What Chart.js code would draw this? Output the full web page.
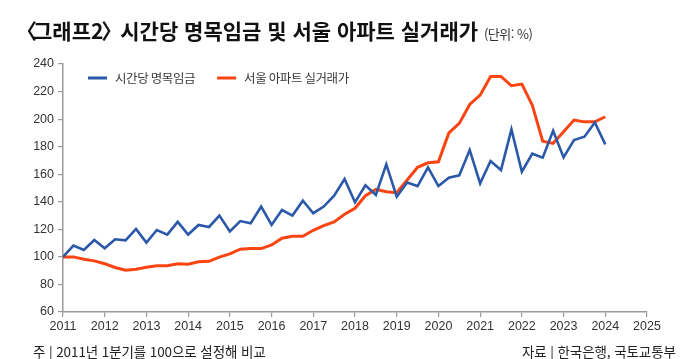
<!DOCTYPE html>
<html lang="ko">
<head>
<meta charset="utf-8">
<script src="https://cdn.jsdelivr.net/npm/chart.js@4.4.1/dist/chart.umd.min.js"></script>
<style>
  html, body { margin: 0; padding: 0; background: #fff; }
  #wrap { position: relative; width: 700px; height: 359px; overflow: hidden; }
  #grafico { position: absolute; left: 0; top: 0; }
  .titulo {
    position: absolute; left: 21px; top: 15px; white-space: nowrap;
    font-family: "Noto Sans CJK KR", sans-serif; font-weight: 700; font-size: 21px;
    letter-spacing: 0px; color: #111;
  }
  .titulo .ab { margin-left: -5px; margin-right: -4px; }
  .titulo .fe { margin-left: -2px; margin-right: -8px; }
  .titulo small { font-weight: 400; font-size: 13px; letter-spacing: -0.5px; color: #333; }
  .nota {
    position: absolute; top: 341px; white-space: nowrap;
    font-family: "Noto Sans CJK KR", sans-serif; font-size: 13.5px; letter-spacing: -0.1px; color: #222;
  }
  #fonte { left: 522px; }
</style>
</head>
<body>
<div id="wrap">
  <canvas id="grafico" width="700" height="359"></canvas>
  <div class="titulo"><span class="ab">〈</span>그래프2<span class="fe">〉</span> 시간당 명목임금 및 서울 아파트 실거래가 <small>(단위: %)</small></div>
  <div class="nota" style="left:33px">주 | 2011년 1분기를 100으로 설정해 비교</div>
  <div class="nota" id="fonte">자료 | 한국은행, 국토교통부</div>
</div>
<script>
// trimestres 2011 1분기 ~ 2024 1분기
const trimestres = [];
for (let a = 2011; a <= 2024; a++) {
    for (let q = 1; q <= 4; q++) {
        if (a === 2024 && q > 1) break;
        trimestres.push(a + "Q" + q);
    }
}

// 시간당 명목임금 (2011년 1분기 = 100)
const salario = [
    100, 108.2, 105, 112.3, 106.3, 112.8, 112, 120.3,
    110.4, 119.5, 116.2, 125.4, 116.2, 123.2, 121.7, 130,
    118.4, 126, 124.4, 136.5, 123.2, 134, 130, 140.8,
    131.7, 136.5, 144.4, 156.5, 139.6, 152, 145, 167.2,
    143.7, 154, 151.4, 165, 151.4, 157.5, 159.2, 177.5,
    153.4, 169.6, 163, 192.5, 161.8, 174.9, 172, 191.5,
    172.2, 184.8, 187.2, 197.6, 181.7
];

// 서울 아파트 실거래가 (2011년 1분기 = 100)
const apartamento = [
    100, 100, 98.3, 97.1, 95, 92.3, 90.3, 91,
    92.5, 93.5, 93.5, 95, 94.7, 96.4, 96.8, 99.8,
    102.2, 105.6, 106, 106, 108.7, 113.5, 115, 115,
    119.3, 122.7, 125.4, 130.9, 135.3, 144.4, 149, 147.3,
    146.6, 155.8, 165, 168.3, 169, 190, 196.9, 210.6,
    217.4, 231, 231, 224.2, 225.4, 210.1, 184, 182.4,
    190.8, 199.3, 198, 198, 201.7
];

const anos = [2011, 2012, 2013, 2014, 2015, 2016, 2017, 2018, 2019, 2020, 2021, 2022, 2023, 2024, 2025];

// "2013Q3" -> 2013.5
function posicao(rotulo) {
    const [a, q] = rotulo.split("Q");
    return Number(a) + (Number(q) - 1) / 4;
}

function pontos(valores) {
    return trimestres.map((t, i) => ({ x: posicao(t), y: valores[i] }));
}

// legenda desenhada dentro da área do gráfico
const legendaInterna = {
    id: "legendaInterna",
    afterDraw(chart) {
        const ctx = chart.ctx;
        const area = chart.chartArea;
        let x = area.left + 25;
        const y = area.top + 14;
        ctx.save();
        ctx.font = '12.5px "Noto Sans CJK KR"';
        ctx.letterSpacing = "-0.4px";
        ctx.textBaseline = "middle";
        chart.data.datasets.forEach(ds => {
            ctx.strokeStyle = ds.borderColor;
            ctx.lineWidth = 3;
            ctx.beginPath();
            ctx.moveTo(x, y);
            ctx.lineTo(x + 19, y);
            ctx.stroke();
            ctx.fillStyle = "#3a3a3a";
            ctx.fillText(ds.label, x + 27, y);
            x += 27 + ctx.measureText(ds.label).width + 22;
        });
        ctx.restore();
    }
};

const eixoCor = "#9a9a9a";
const fonteEixo = { family: '"Liberation Sans Narrow", "Liberation Sans", sans-serif', size: 12.5 };

new Chart(document.getElementById("grafico"), {
    type: "line",
    data: {
        datasets: [
            {
                label: "시간당 명목임금",
                data: pontos(salario),
                borderColor: "#2b58a8",
                borderWidth: 2.6,
                pointRadius: 0,
                tension: 0
            },
            {
                label: "서울 아파트 실거래가",
                data: pontos(apartamento),
                borderColor: "#fa4512",
                borderWidth: 3,
                pointRadius: 0,
                tension: 0
            }
        ]
    },
    options: {
        responsive: false,
        animation: false,
        layout: { padding: { top: 64, right: 53, left: 0, bottom: 0 } },
        plugins: { legend: { display: false }, tooltip: { enabled: false } },
        scales: {
            x: {
                type: "linear",
                min: anos[0],
                max: anos[anos.length - 1],
                afterBuildTicks: s => { s.ticks = anos.map(v => ({ value: v })); },
                ticks: { callback: v => String(v), color: "#333", font: fonteEixo, padding: 2, maxRotation: 0 },
                grid: { drawOnChartArea: false, tickLength: 5, color: eixoCor, lineWidth: 1.2 },
                border: { color: eixoCor, width: 1.5 },
                afterFit: s => { s.height = 47; }
            },
            y: {
                min: 60,
                max: 240,
                ticks: { stepSize: 20, color: "#333", font: fonteEixo, padding: 4 },
                grid: { drawOnChartArea: false, tickLength: 5, color: eixoCor, lineWidth: 1.2 },
                border: { color: eixoCor, width: 1.5 },
                afterFit: s => { s.width = 63; }
            }
        }
    },
    plugins: [legendaInterna]
});
</script>
</body>
</html>
